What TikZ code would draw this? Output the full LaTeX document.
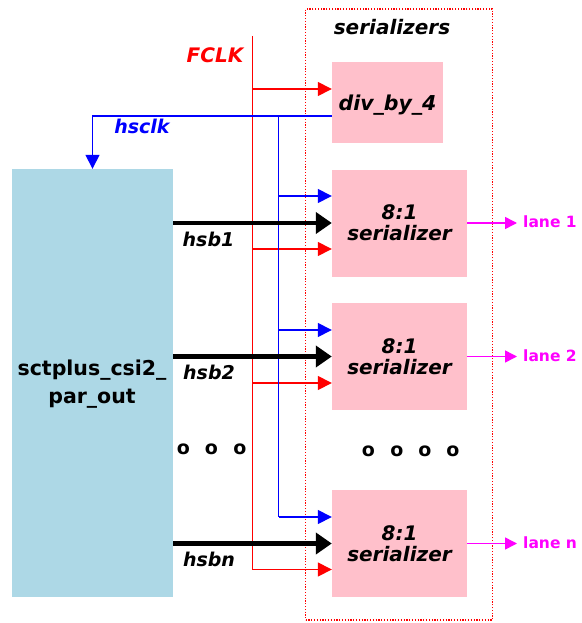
\documentclass[tikz,border=0pt]{standalone}
\usepackage{fontspec}
\setmainfont{DejaVu Sans}
\usetikzlibrary{arrows.meta}
\definecolor{coreblue}{RGB}{173,216,230}
\definecolor{serpink}{RGB}{255,192,203}
\definecolor{lanemag}{RGB}{255,0,255}
\tikzset{
  blk/.style={draw=none,inner sep=0pt,minimum width=135pt,minimum height=107pt,fill=serpink,align=center,font=\fontsize{20}{21}\selectfont\bfseries\itshape},
  lbl/.style={inner sep=0pt,font=\fontsize{19}{20}\selectfont\bfseries\itshape},
  redw/.style={draw=red,line width=1.5pt},
  bluew/.style={draw=blue,line width=1.5pt},
  redarr/.style={redw,-{Triangle[length=14pt,width=14pt]}},
  bluearr/.style={bluew,-{Triangle[length=14pt,width=14pt]}},
  busarr/.style={draw=black,line width=4.7pt,-{Triangle[length=16pt,width=21pt]}},
  lanearr/.style={draw=lanemag,line width=1.5pt,-{Triangle[length=12pt,width=12pt]}},
  lanelbl/.style={inner sep=0pt,anchor=west,text=lanemag,font=\fontsize{15.5}{16}\selectfont\bfseries},
  dotlbl/.style={inner sep=0pt,font=\fontsize{19}{19}\selectfont\bfseries},
}
\begin{document}
\begin{tikzpicture}[x=1pt,y=-1pt]
\useasboundingbox (0,0) rectangle (581,623);
% dotted group box
\node[draw=red,dash pattern=on 1.2pt off 1.6pt,line width=1.2pt,inner sep=0pt,minimum width=187pt,minimum height=611pt] (grp) at (399,314.5) {};
\node[lbl,font=\fontsize{20}{21}\selectfont\bfseries\itshape] (grplbl) at (392,27) {serializers};
% core block
\node[fill=coreblue,inner sep=0pt,minimum width=161pt,minimum height=428pt] (core) at (92.5,383) {};
\node[inner sep=0pt,align=center,font=\fontsize{20.5}{28}\selectfont\bfseries] (coretxt) at (92,384) {sctplus\_csi2\_\\par\_out};
% divider
\node[blk,minimum width=111pt,minimum height=81pt] (div) at (387.5,102.5) {};
\node[inner sep=0pt,font=\fontsize{20.5}{21}\selectfont\bfseries\itshape] (divtxt) at (387.5,105) {div\_by\_4};
% serializers
\node[blk] (s1) at (399.5,223) {8:1\\serializer};
\node[blk] (s2) at (399.5,356.5) {8:1\\serializer};
\node[blk] (s3) at (399.5,543.5) {8:1\\serializer};
% FCLK bus
\coordinate (rtop) at (252.5,36);
\coordinate (rbot) at (252.5,569.5);
\draw[redw] (rtop) -- (rbot);
\node[lbl,text=red,font=\fontsize{20}{21}\selectfont\bfseries\itshape] (fclk) at (215,55) {FCLK};
\coordinate (rd) at (252.5,89);
\coordinate (r1) at (252.5,249);
\coordinate (r2) at (252.5,383);
\draw[redarr] (rd) -- (rd -| div.west);
\draw[redarr] (r1) -- (r1 -| s1.west);
\draw[redarr] (r2) -- (r2 -| s2.west);
\draw[redarr] (rbot) -- (rbot -| s3.west);
% hsclk
\coordinate (hs) at (92.5,116);
\coordinate (btop) at (278.5,116);
\coordinate (bbot) at (278.5,517);
\draw[bluearr] (hs -| div.west) -- (hs) -- (core.north);
\draw[bluew] (btop) -- (bbot);
\node[lbl,text=blue] (hsclk) at (142,126) {hsclk};
\coordinate (b1) at (278.5,196);
\coordinate (b2) at (278.5,330);
\draw[bluearr] (b1) -- (b1 -| s1.west);
\draw[bluearr] (b2) -- (b2 -| s2.west);
\draw[bluearr] (bbot) -- (bbot -| s3.west);
% data buses
\draw[busarr] (core.east |- s1.west) -- (s1.west);
\draw[busarr] (core.east |- s2.west) -- (s2.west);
\draw[busarr] (core.east |- s3.west) -- (s3.west);
\node[lbl] (hsb1) at (208.5,239) {hsb1};
\node[lbl] (hsb2) at (209,372) {hsb2};
\node[lbl] (hsbn) at (209,559) {hsbn};
% lanes
\coordinate (l1) at (517,223);
\coordinate (l2) at (517,356.5);
\coordinate (l3) at (517,543.5);
\draw[lanearr] (s1.east) -- (l1);
\draw[lanearr] (s2.east) -- (l2);
\draw[lanearr] (s3.east) -- (l3);
\node[lanelbl] (lane1) at (523,222) {lane 1};
\node[lanelbl] (lane2) at (523,356) {lane 2};
\node[lanelbl] (lanen) at (523,543) {lane n};
% ellipsis dots
\node[dotlbl] (d1) at (183.5,449) {o};
\node[dotlbl] (d2) at (211.5,449) {o};
\node[dotlbl] (d3) at (240,449) {o};
\node[dotlbl] (e1) at (368.5,451) {o};
\node[dotlbl] (e2) at (397,451) {o};
\node[dotlbl] (e3) at (425,451) {o};
\node[dotlbl] (e4) at (453,451) {o};
\end{tikzpicture}
\end{document}
